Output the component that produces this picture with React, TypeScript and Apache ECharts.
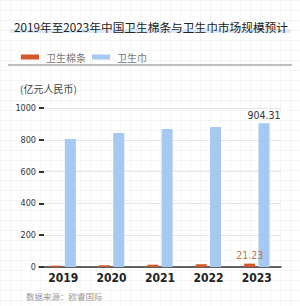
import React, { useEffect, useRef } from "react";
import * as echarts from "echarts";

const title = "2019年至2023年中国卫生棉条与卫生巾市场规模预计";
const unitLabel = "(亿元人民币)";
const source = "数据来源：欧睿国际";
const categories = ["2019", "2020", "2021", "2022", "2023"];
const seriesNames = ["卫生棉条", "卫生巾"];
const tamponValues = [8.5, 11, 14.5, 17.5, 21.23];
const padValues = [805, 843, 868, 880, 904.31];
const labeledIndex = 4;

const narrow = "'Liberation Sans Narrow', 'DejaVu Sans Condensed', Roboto, sans-serif";
const cjk = "'Noto Sans CJK SC', 'Noto Sans', sans-serif";

export default function App() {
  const ref = useRef<HTMLDivElement>(null);
  useEffect(() => {
    document.body.style.margin = "0";
    const chart = echarts.init(ref.current!, null, { renderer: "svg" });
    const mk = (vals: number[], color: string) =>
      vals.map((v, i) =>
        i === labeledIndex
          ? { value: v, label: { show: true, position: "top", distance: 3, formatter: v.toFixed(2), color, fontFamily: narrow, fontSize: 10.5 } }
          : v
      );
    chart.setOption({
      animation: false,
      textStyle: { fontFamily: cjk },
      title: {
        text: title,
        left: 9,
        top: 16,
        textStyle: { fontSize: 11.7, fontWeight: "normal", color: "#222", fontFamily: cjk },
      },
      legend: {
        left: 16,
        top: 47,
        itemWidth: 18,
        itemHeight: 5,
        itemGap: 6,
        icon: "rect",
        data: seriesNames,
        textStyle: { fontSize: 10, color: "#777", fontFamily: cjk, padding: [0, 0, 0, 2] },
      },
      graphic: [
        { type: "rect", shape: { x: 10, y: 29, width: 280, height: 4 }, style: { fill: "#dbe8f5" }, z: -1 },
        { type: "line", shape: { x1: 8, y1: 65, x2: 292, y2: 65 }, style: { stroke: "#aaaaaa", lineWidth: 1.5 } },
        { type: "text", x: 20, y: 83, style: { text: unitLabel, fontSize: 10, fill: "#444", fontFamily: cjk } },
        { type: "text", x: 26, y: 292, style: { text: source, fontSize: 8.5, fill: "#999", fontFamily: cjk } },
      ],
      grid: { left: 39, right: 19, top: 108, bottom: 39 },
      xAxis: {
        type: "category",
        data: categories,
        axisLine: { lineStyle: { color: "#333", width: 1.5 } },
        axisTick: { show: false },
        axisLabel: { fontFamily: narrow, fontWeight: "bold", fontSize: 12, color: "#222", margin: 5 },
      },
      yAxis: {
        type: "value",
        min: 0,
        max: 1000,
        interval: 200,
        offset: -5,
        axisLine: { show: false },
        axisTick: { show: true, length: 5, lineStyle: { color: "#333", width: 2 } },
        axisLabel: { fontFamily: narrow, fontSize: 9, color: "#333", margin: 8, formatter: (v: number) => String(v) },
        splitLine: { lineStyle: { color: "#e6e6e6", width: 1 } },
      },
      series: [
        {
          name: seriesNames[0],
          type: "bar",
          data: mk(tamponValues, "#b5774f"),
          barWidth: 11,
          barGap: "30%",
          itemStyle: { color: "#d4572a" },
        },
        {
          name: seriesNames[1],
          type: "bar",
          data: mk(padValues, "#333"),
          barWidth: 11,
          itemStyle: { color: "#a5c9f0" },
        },
      ],
    });
    return () => chart.dispose();
  }, []);
  return (
    <div
      ref={ref}
      style={{
        width: 300,
        height: 306,
        backgroundColor: "#fff",
        backgroundImage:
          "linear-gradient(rgba(0,0,0,0.035) 1px, transparent 1px), linear-gradient(90deg, rgba(0,0,0,0.035) 1px, transparent 1px)",
        backgroundSize: "10px 10px",
      }}
    />
  );
}
